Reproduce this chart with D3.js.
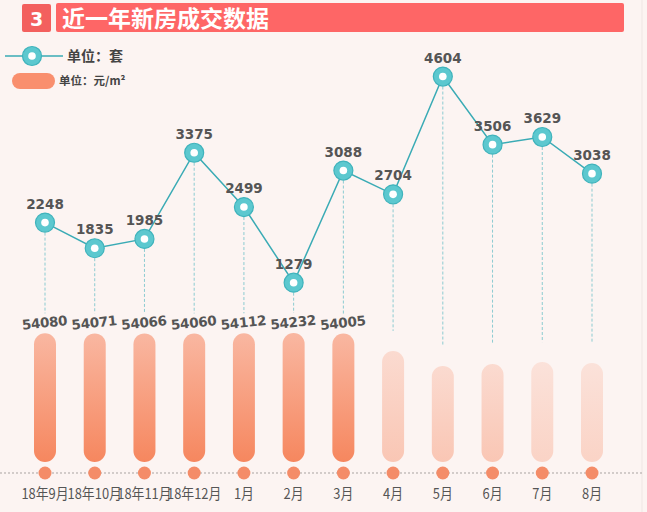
<!DOCTYPE html>
<html><head><meta charset="utf-8">
<script src="https://cdn.jsdelivr.net/npm/d3@7/dist/d3.min.js"></script>
<style>html,body{margin:0;padding:0;background:#fcf4f2;}svg{display:block;}</style>
</head><body>
<svg id="chart" width="647" height="512"></svg>
<script>
// ---- data ----
const months = ["18年9月","18年10月","18年11月","18年12月","1月","2月","3月","4月","5月","6月","7月","8月"];
const units = [2248,1835,1985,3375,2499,1279,3088,2704,4604,3506,3629,3038];           // 单位：套
const prices = [54080,54071,54066,54060,54112,54232,54005,46700,40400,41200,42000,41600]; // 单位：元/m² (last five, no label in source)
const priceLabelled = [true,true,true,true,true,true,true,false,false,false,false,false];
const titleNum = "3";
const titleText = "近一年新房成交数据";
const legendUnits = "单位：套";
const legendPrice = "单位：元/m²";

const svg = d3.select("#chart");
const W = 647, H = 512;
svg.append("rect").attr("width", W).attr("height", H).attr("fill", "#fcf4f2");
svg.append("line").attr("x1", 642).attr("x2", 642).attr("y1", 0).attr("y2", H).attr("stroke", "#efe6e4").attr("stroke-width", 1);

const defs = svg.append("defs");
const g = defs.append("linearGradient").attr("id", "barGrad").attr("x1", 0).attr("x2", 0).attr("y1", 0).attr("y2", 1);
g.append("stop").attr("offset", "0%").attr("stop-color", "#f9b7a1");
g.append("stop").attr("offset", "100%").attr("stop-color", "#f6875f");

// ---- header ----
svg.append("rect").attr("x", 22).attr("y", 4).attr("width", 29).attr("height", 28).attr("rx", 2).attr("fill", "#f3605e");
svg.append("text").attr("x", 36.5).attr("y", 26).attr("text-anchor", "middle").attr("fill", "#fff")
  .attr("font-family", "'DejaVu Sans', sans-serif").attr("font-weight", "bold").attr("font-size", 19).text(titleNum);
svg.append("rect").attr("x", 56).attr("y", 3).attr("width", 568).attr("height", 29).attr("rx", 2).attr("fill", "#fe6666");
svg.append("text").attr("x", 62).attr("y", 26.5).attr("fill", "#fff")
  .attr("font-family", "'Noto Sans CJK SC', sans-serif").attr("font-weight", "bold").attr("font-size", 23).text(titleText);

// ---- legend ----
svg.append("line").attr("x1", 5).attr("x2", 63).attr("y1", 56).attr("y2", 56).attr("stroke", "#3aabb5").attr("stroke-width", 1.5);
svg.append("circle").attr("cx", 32).attr("cy", 56).attr("r", 9.5).attr("fill", "#5cc8cf").attr("stroke", "#3fb3bc").attr("stroke-width", 1.2);
svg.append("circle").attr("cx", 32).attr("cy", 56).attr("r", 3.8).attr("fill", "#fff");
svg.append("text").attr("x", 67).attr("y", 61).attr("fill", "#444").attr("font-family", "'Noto Sans CJK SC', sans-serif")
  .attr("font-weight", "bold").attr("font-size", 14).text(legendUnits);
svg.append("rect").attr("x", 12).attr("y", 73).attr("width", 43).attr("height", 16).attr("rx", 8).attr("fill", "#f98f6e");
svg.append("text").attr("x", 59).attr("y", 85).attr("fill", "#444").attr("font-family", "'Noto Sans CJK SC', sans-serif")
  .attr("font-weight", "bold").attr("font-size", 11.5).text(legendPrice);

// ---- scales ----
const x = d3.scalePoint().domain(months).range([45, 592]);
const yU = d3.scaleLinear().domain([0, 5000]).range([362, 52]);
const baseY = 462;
const yP = d3.scaleLinear().domain([0, 54232]).range([baseY, 333]);

// ---- bottom axis ----
svg.append("line").attr("x1", 0).attr("x2", 642).attr("y1", 473).attr("y2", 473)
  .attr("stroke", "#a9a3a1").attr("stroke-width", 1).attr("stroke-dasharray", "2,2");

// ---- vertical dashed guides ----
svg.append("g").selectAll("line").data(months).join("line")
  .attr("x1", d => x(d)).attr("x2", d => x(d))
  .attr("y1", (d, i) => yU(units[i]) + 10)
  .attr("y2", (d, i) => yP(prices[i]) - 20)
  .attr("stroke", "#8ccbd1").attr("stroke-width", 1).attr("stroke-dasharray", "3,2");

// ---- bars ----
const opac = i => priceLabelled[i] ? 1 : (i < 10 ? 0.42 : 0.3);
svg.append("g").selectAll("rect").data(months).join("rect")
  .attr("x", d => x(d) - 11).attr("width", 22)
  .attr("y", (d, i) => yP(prices[i]))
  .attr("height", (d, i) => baseY - yP(prices[i]))
  .attr("rx", 11).attr("fill", "url(#barGrad)")
  .attr("opacity", (d, i) => opac(i));

// price labels (rotated)
svg.append("g").selectAll("text").data(months.filter((d, i) => priceLabelled[i])).join("text")
  .attr("transform", (d, i) => `translate(${x(d)},${yP(prices[i]) - 6}) rotate(-6)`)
  .attr("text-anchor", "middle").attr("fill", "#555")
  .attr("font-family", "'DejaVu Sans', sans-serif").attr("font-weight", "bold").attr("font-size", 13.5)
  .attr("letter-spacing", -0.3)
  .text((d, i) => prices[i]);

// bottom dots and labels
svg.append("g").selectAll("circle").data(months).join("circle")
  .attr("cx", d => x(d)).attr("cy", 473).attr("r", 6.5).attr("fill", "#f48c68");
svg.append("g").selectAll("text").data(months).join("text")
  .attr("transform", d => `translate(${x(d)},499) scale(0.86,1)`)
  .attr("text-anchor", "middle").attr("fill", "#555")
  .attr("font-family", "'Noto Sans CJK SC', sans-serif").attr("font-size", 15)
  .text(d => d);

// ---- line series ----
const line = d3.line().x((d, i) => x(months[i])).y(d => yU(d));
svg.append("path").datum(units).attr("d", line).attr("fill", "none").attr("stroke", "#3aabb5").attr("stroke-width", 1.5);
const pts = svg.append("g").selectAll("g").data(units).join("g")
  .attr("transform", (d, i) => `translate(${x(months[i])},${yU(d)})`);
pts.append("circle").attr("r", 9.5).attr("fill", "#5cc8cf").attr("stroke", "#3fb3bc").attr("stroke-width", 1.2);
pts.append("circle").attr("r", 3.8).attr("fill", "#fff");
pts.append("text").attr("y", -14).attr("text-anchor", "middle").attr("fill", "#555")
  .attr("font-family", "'DejaVu Sans', sans-serif").attr("font-weight", "bold").attr("font-size", 13.5)
  .text(d => d);
</script>
</body></html>
